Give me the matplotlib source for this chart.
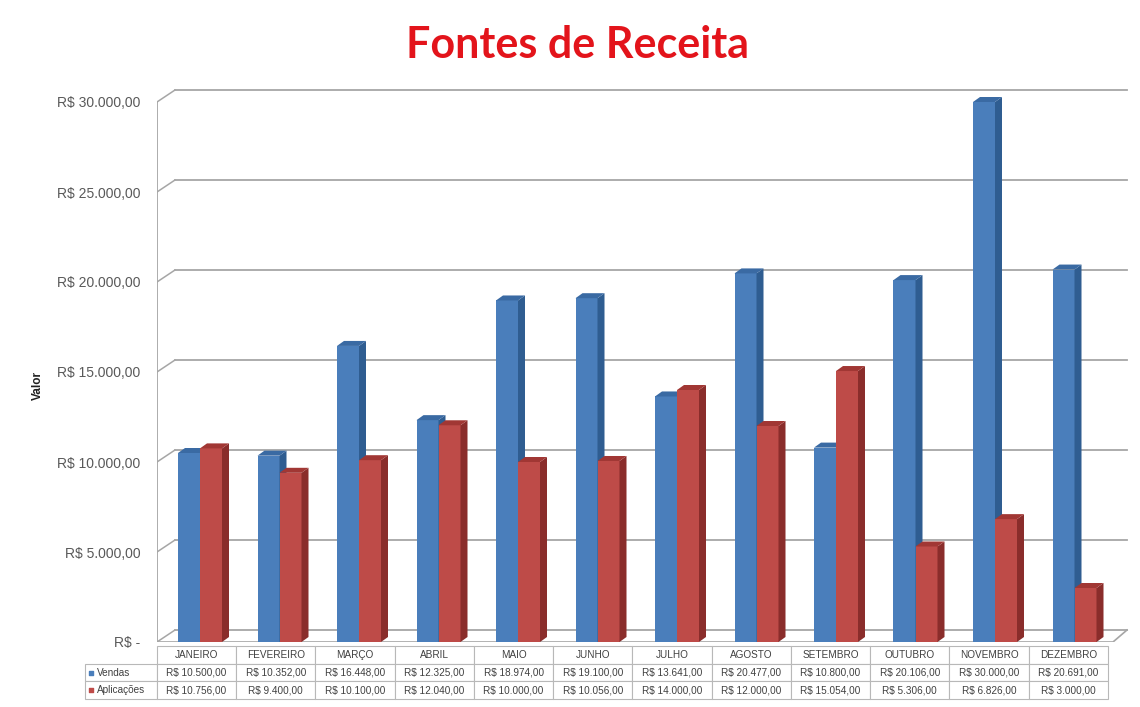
import matplotlib.pyplot as plt
from matplotlib.patches import Polygon
import numpy as np

meses = ['JANEIRO', 'FEVEREIRO', 'MARÇO', 'ABRIL', 'MAIO', 'JUNHO', 'JULHO',
         'AGOSTO', 'SETEMBRO', 'OUTUBRO', 'NOVEMBRO', 'DEZEMBRO']
vendas = [10500, 10352, 16448, 12325, 18974, 19100, 13641, 20477, 10800, 20106, 30000, 20691]
aplicacoes = [10756, 9400, 10100, 12040, 10000, 10056, 14000, 12000, 15054, 5306, 6826, 3000]
series = ['Vendas', 'Aplicações']
yticks = [0, 5000, 10000, 15000, 20000, 25000, 30000]


def reais(v):
    if v == 0:
        return 'R$ -'
    s = f'{v:,.2f}'.replace(',', 'X').replace('.', ',').replace('X', '.')
    return 'R$ ' + s


W, H = 1140, 707
fig = plt.figure(figsize=(W / 100, H / 100), dpi=100)
plt.rcParams['font.family'] = ['Lato', 'DejaVu Sans']

# axes box in pixels: x 157..1130, y 642 (zero) .. 82
ax_l, ax_r, ax_b, ax_t = 157, 1130, 642, 82
ax = fig.add_axes([ax_l / W, (H - ax_b) / H, (ax_r - ax_l) / W, (ax_b - ax_t) / H])

px_cat = 79.5          # pixels per category
px_val = 0.018         # pixels per real
x0_px = 200            # pixel of first category
xmin = (ax_l - x0_px) / px_cat
xmax = (ax_r - x0_px) / px_cat
ymax = (ax_b - ax_t) / px_val
ax.set_xlim(xmin, xmax)
ax.set_ylim(0, ymax)
for s in ax.spines.values():
    s.set_visible(False)
ax.set_xticks([])

# depth offsets (back wall and bar depth) converted to data units
wall_dx, wall_dy = 18 / px_cat, 12 / px_val
bar_dx, bar_dy = 7 / px_cat, 5 / px_val
right_back = (1127 - x0_px) / px_cat
right_front = (1113 - x0_px) / px_cat

grid_c = '#a6a6a6'
for v in yticks:
    ax.plot([xmin + wall_dx, right_back], [v + wall_dy, v + wall_dy],
            color=grid_c, lw=1.3, zorder=1)
    ax.plot([xmin, xmin + wall_dx], [v, v + wall_dy], color=grid_c, lw=1.1, zorder=1)
ax.plot([xmin, xmin], [0, 30000], color=grid_c, lw=1.3, zorder=1)
ax.plot([xmin, right_front, right_back], [0, 0, wall_dy], color=grid_c, lw=1.2, zorder=1)

ax.set_yticks(yticks)
ax.set_yticklabels([reais(v) for v in yticks])
ax.tick_params(axis='y', length=0, pad=12, labelsize=10, labelcolor='#595959')
for lab in ax.get_yticklabels():
    lab.set_family(['Liberation Sans', 'DejaVu Sans'])

fig.text(38 / W, 1 - 385 / H, 'Valor', rotation=90, ha='center', va='center',
         fontsize=8.5, fontweight='bold', color='#202020', family=['Liberation Sans'])

x = np.arange(len(meses))
bw = 22 / px_cat

# front, side and top face colours
cores = {
    'Vendas': ('#4a7ebb', '#2f5d91', '#3a6aa3'),
    'Aplicações': ('#be4b48', '#8a2d2b', '#a13734'),
}

z = 3
for i in range(len(meses)):
    for nome, vals, left in [('Vendas', vendas, x[i] - bw), ('Aplicações', aplicacoes, x[i])]:
        frente, lado, topo = cores[nome]
        v = vals[i]
        ax.bar(left, v, bw, align='edge', color=frente, edgecolor='none', zorder=z)
        r = left + bw
        ax.add_patch(Polygon([(r, 0), (r + bar_dx, bar_dy), (r + bar_dx, v + bar_dy), (r, v)],
                             closed=True, facecolor=lado, edgecolor='none', zorder=z))
        ax.add_patch(Polygon([(left, v), (left + bar_dx, v + bar_dy), (r + bar_dx, v + bar_dy), (r, v)],
                             closed=True, facecolor=topo, edgecolor='none', zorder=z))
        z += 1

# data table under the floor
cell_text = [[nome] + [reais(v) for v in vals] for nome, vals in zip(series, [vendas, aplicacoes])]
col_labels = [''] + meses
lab_w, col_w = 72, 79.25
larguras = [lab_w] + [col_w] * len(meses)
tot = sum(larguras)
ax_w_px = ax_r - ax_l
ax_h_px = ax_b - ax_t
tab_left = (85 - ax_l) / ax_w_px
tab_top, tab_bot = 646, 699
tab = ax.table(cellText=cell_text, colLabels=col_labels,
               colWidths=[w / tot for w in larguras], cellLoc='center',
               bbox=[tab_left, -(tab_bot - ax_b) / ax_h_px, tot / ax_w_px,
                     (tab_bot - tab_top) / ax_h_px])
tab.auto_set_font_size(False)
for (r, c), cell in tab.get_celld().items():
    cell.set_edgecolor('#b8b8b8')
    cell.set_linewidth(0.8)
    cell.get_text().set_fontsize(7.2)
    cell.get_text().set_color('#404040')
    cell.get_text().set_family(['Liberation Sans', 'DejaVu Sans'])
    if r == 0 and c == 0:
        cell.visible_edges = 'open'
    if c == 0 and r > 0:
        cell.get_text().set_ha('left')
        cell.PAD = 0.17

# legend keys inside the row label cells
row_h = (tab_bot - tab_top) / 3
for k, nome in enumerate(series):
    yk = tab_top + row_h * (k + 1.5)
    ax.scatter([(91 - ax_l) / ax_w_px], [-(yk - ax_b) / ax_h_px], marker='s', s=7,
               color=cores[nome][0], transform=ax.transAxes, clip_on=False, zorder=10)

fig.text(577 / W, 1 - 45 / H, 'Fontes de Receita', ha='center', va='center',
         fontsize=31, fontweight='bold', color='#e3141b')

fig.savefig('out.png', dpi=100)
